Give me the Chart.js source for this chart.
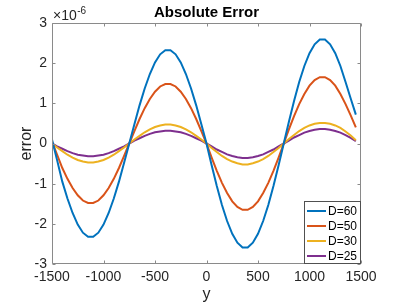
<!DOCTYPE html>
<html>
<head>
<meta charset="utf-8">
<script src="https://cdn.jsdelivr.net/npm/chart.js@4/dist/chart.umd.min.js"></script>
<style>
html,body{margin:0;padding:0;background:#fff;}
canvas{display:block;}
</style>
</head>
<body>
<canvas id="c" width="399" height="304"></canvas>
<script>
// ---- data (error values in units of 1e-6) ----
const yPositions = [-1500,-1450,-1400,-1350,-1300,-1250,-1200,-1150,-1100,-1050,-1000,-950,-900,-850,-800,-750,-700,-650,-600,-550,-500,-450,-400,-350,-300,-250,-200,-150,-100,-50,
  0,50,100,150,200,250,300,350,400,450,500,550,600,650,700,750,800,850,900,950,1000,1050,1100,1150,1200,1250,1300,1350,1400,1450];
const errD60 = [0.10,-0.42,-0.95,-1.37,-1.73,-2.02,-2.22,-2.32,-2.32,-2.22,-2.02,-1.73,-1.37,-0.95,-0.48,0.00,0.48,0.95,1.37,1.73,2.02,2.22,2.32,2.32,2.22,2.02,1.73,1.37,0.95,0.48,
  0.00,-0.54,-1.06,-1.53,-1.93,-2.25,-2.47,-2.59,-2.59,-2.47,-2.25,-1.93,-1.53,-1.06,-0.54,0.00,0.54,1.06,1.53,1.93,2.25,2.47,2.59,2.59,2.47,2.25,1.93,1.53,1.12,0.72];
const errD50 = [0.05,-0.28,-0.61,-0.88,-1.11,-1.29,-1.42,-1.48,-1.48,-1.42,-1.29,-1.11,-0.88,-0.61,-0.31,0.00,0.31,0.61,0.88,1.11,1.29,1.42,1.48,1.48,1.42,1.29,1.11,0.88,0.61,0.31,
  0.00,-0.35,-0.68,-0.98,-1.23,-1.44,-1.58,-1.65,-1.65,-1.58,-1.44,-1.23,-0.98,-0.68,-0.35,0.00,0.35,0.68,0.98,1.23,1.44,1.58,1.65,1.65,1.58,1.44,1.23,0.98,0.70,0.40];
const errD30 = [0.00,-0.10,-0.19,-0.28,-0.35,-0.41,-0.45,-0.47,-0.47,-0.45,-0.41,-0.35,-0.28,-0.19,-0.10,0.00,0.10,0.19,0.28,0.35,0.41,0.45,0.47,0.47,0.45,0.41,0.35,0.28,0.19,0.10,
  0.00,-0.11,-0.21,-0.31,-0.39,-0.45,-0.49,-0.52,-0.52,-0.49,-0.45,-0.39,-0.31,-0.21,-0.11,0.00,0.11,0.21,0.31,0.39,0.45,0.49,0.51,0.51,0.49,0.45,0.39,0.30,0.20,0.08];
const errD25 = [0.00,-0.07,-0.13,-0.19,-0.24,-0.28,-0.30,-0.32,-0.32,-0.30,-0.28,-0.24,-0.19,-0.13,-0.07,0.00,0.07,0.13,0.19,0.24,0.28,0.30,0.32,0.32,0.30,0.28,0.24,0.19,0.13,0.07,
  0.00,-0.07,-0.15,-0.21,-0.27,-0.31,-0.34,-0.36,-0.36,-0.34,-0.31,-0.27,-0.21,-0.15,-0.07,0.00,0.07,0.15,0.21,0.27,0.31,0.34,0.36,0.36,0.34,0.31,0.27,0.21,0.14,0.06];
const seriesLabels = ['D=60','D=50','D=30','D=25'];
const seriesColors = ['#0072BD','#D95319','#EDB120','#7E2F8E'];
const xTickValues = [-1500,-1000,-500,0,500,1000,1500];
const yTickValues = [-3,-2,-1,0,1,2,3];
const chartTitle = 'Absolute Error';
const xTitle = 'y';
const yTitle = 'error';
const exponentBase = '\u00D710';
const exponentPower = '-6';

const FONT = '"Liberation Sans", Arial, Helvetica, sans-serif';
const TXT = '#262626';
const AXC = '#8a8a8a';

const allSeries = [errD60, errD50, errD30, errD25];
const datasets = allSeries.map((arr, i) => ({
  label: seriesLabels[i],
  data: arr.map((v, j) => ({x: yPositions[j], y: v})),
  borderColor: seriesColors[i],
  backgroundColor: seriesColors[i],
  borderWidth: 2,
  pointRadius: 0,
  tension: 0,
  fill: false
}));

const decor = {
  id: 'decor',
  afterDraw(chart) {
    const ctx = chart.ctx;
    const a = chart.chartArea;
    const xs = chart.scales.x, ys = chart.scales.y;
    const L = Math.round(a.left) + 0.5, R = Math.round(a.right) - 0.5;
    const T = Math.round(a.top) + 0.5, B = Math.round(a.bottom) - 0.5;
    ctx.save();
    // box
    ctx.strokeStyle = AXC;
    ctx.lineWidth = 1;
    ctx.beginPath();
    ctx.rect(L, T, R - L, B - T);
    ctx.stroke();
    // inward ticks
    ctx.beginPath();
    xTickValues.forEach(v => {
      const px = Math.round(xs.getPixelForValue(v)) + 0.5;
      ctx.moveTo(px, B); ctx.lineTo(px, B - 3);
      ctx.moveTo(px, T); ctx.lineTo(px, T + 3);
    });
    yTickValues.forEach(v => {
      const py = Math.round(ys.getPixelForValue(v)) + 0.5;
      ctx.moveTo(L, py); ctx.lineTo(L + 3, py);
      ctx.moveTo(R, py); ctx.lineTo(R - 3, py);
    });
    ctx.stroke();
    // title
    ctx.fillStyle = '#000';
    ctx.font = 'bold 15px ' + FONT;
    ctx.textAlign = 'center';
    ctx.textBaseline = 'alphabetic';
    ctx.fillText(chartTitle, (a.left + a.right) / 2, 17);
    // exponent
    ctx.fillStyle = TXT;
    ctx.textAlign = 'left';
    ctx.font = '14px ' + FONT;
    ctx.fillText(exponentBase, a.left + 1, 20);
    const w = ctx.measureText(exponentBase).width;
    ctx.font = '10px ' + FONT;
    ctx.fillText(exponentPower, a.left + 1 + w + 0.5, 14);
    // axis titles
    ctx.font = '16px ' + FONT;
    ctx.textAlign = 'center';
    ctx.fillText(xTitle, (a.left + a.right) / 2, 299);
    ctx.save();
    ctx.translate(30.5, (a.top + a.bottom) / 2);
    ctx.rotate(-Math.PI / 2);
    ctx.fillText(yTitle, 0, 0);
    ctx.restore();
    // legend
    const lx = 304.5, ly = 201.5, lw = R - lx, lh = B - ly;
    ctx.fillStyle = '#fff';
    ctx.fillRect(lx, ly, lw, lh);
    ctx.strokeStyle = '#505050';
    ctx.strokeRect(lx, ly, lw, lh);
    ctx.font = '12px ' + FONT;
    ctx.textAlign = 'left';
    ctx.textBaseline = 'middle';
    const rows = [211, 226, 241, 256];
    seriesLabels.forEach((lab, i) => {
      ctx.strokeStyle = seriesColors[i];
      ctx.lineWidth = 2;
      ctx.beginPath();
      ctx.moveTo(307, rows[i]); ctx.lineTo(326, rows[i]);
      ctx.stroke();
      ctx.fillStyle = '#000';
      ctx.fillText(lab, 328, rows[i] + 0.5);
    });
    ctx.restore();
  }
};

new Chart(document.getElementById('c'), {
  type: 'line',
  data: { datasets },
  options: {
    responsive: false,
    animation: false,
    devicePixelRatio: 1,
    layout: { padding: { left: 0, top: 23, right: 38, bottom: 0 } },
    plugins: { legend: { display: false }, tooltip: { enabled: false }, title: { display: false } },
    scales: {
      x: {
        type: 'linear', min: -1500, max: 1500,
        afterBuildTicks: s => { s.ticks = xTickValues.map(v => ({value: v})); },
        afterFit: s => { s.height = 40; },
        grid: { display: false, drawTicks: false },
        border: { display: false },
        ticks: { font: { size: 14, family: FONT }, color: TXT, padding: 5, maxRotation: 0, autoSkip: false,
                 callback: v => String(v) }
      },
      y: {
        type: 'linear', min: -3, max: 3,
        afterBuildTicks: s => { s.ticks = yTickValues.map(v => ({value: v})); },
        afterFit: s => { s.width = 52; },
        grid: { display: false, drawTicks: false },
        border: { display: false },
        ticks: { font: { size: 14, family: FONT }, color: TXT, padding: 5, callback: v => String(v) }
      }
    }
  },
  plugins: [decor]
});
</script>
</body>
</html>
